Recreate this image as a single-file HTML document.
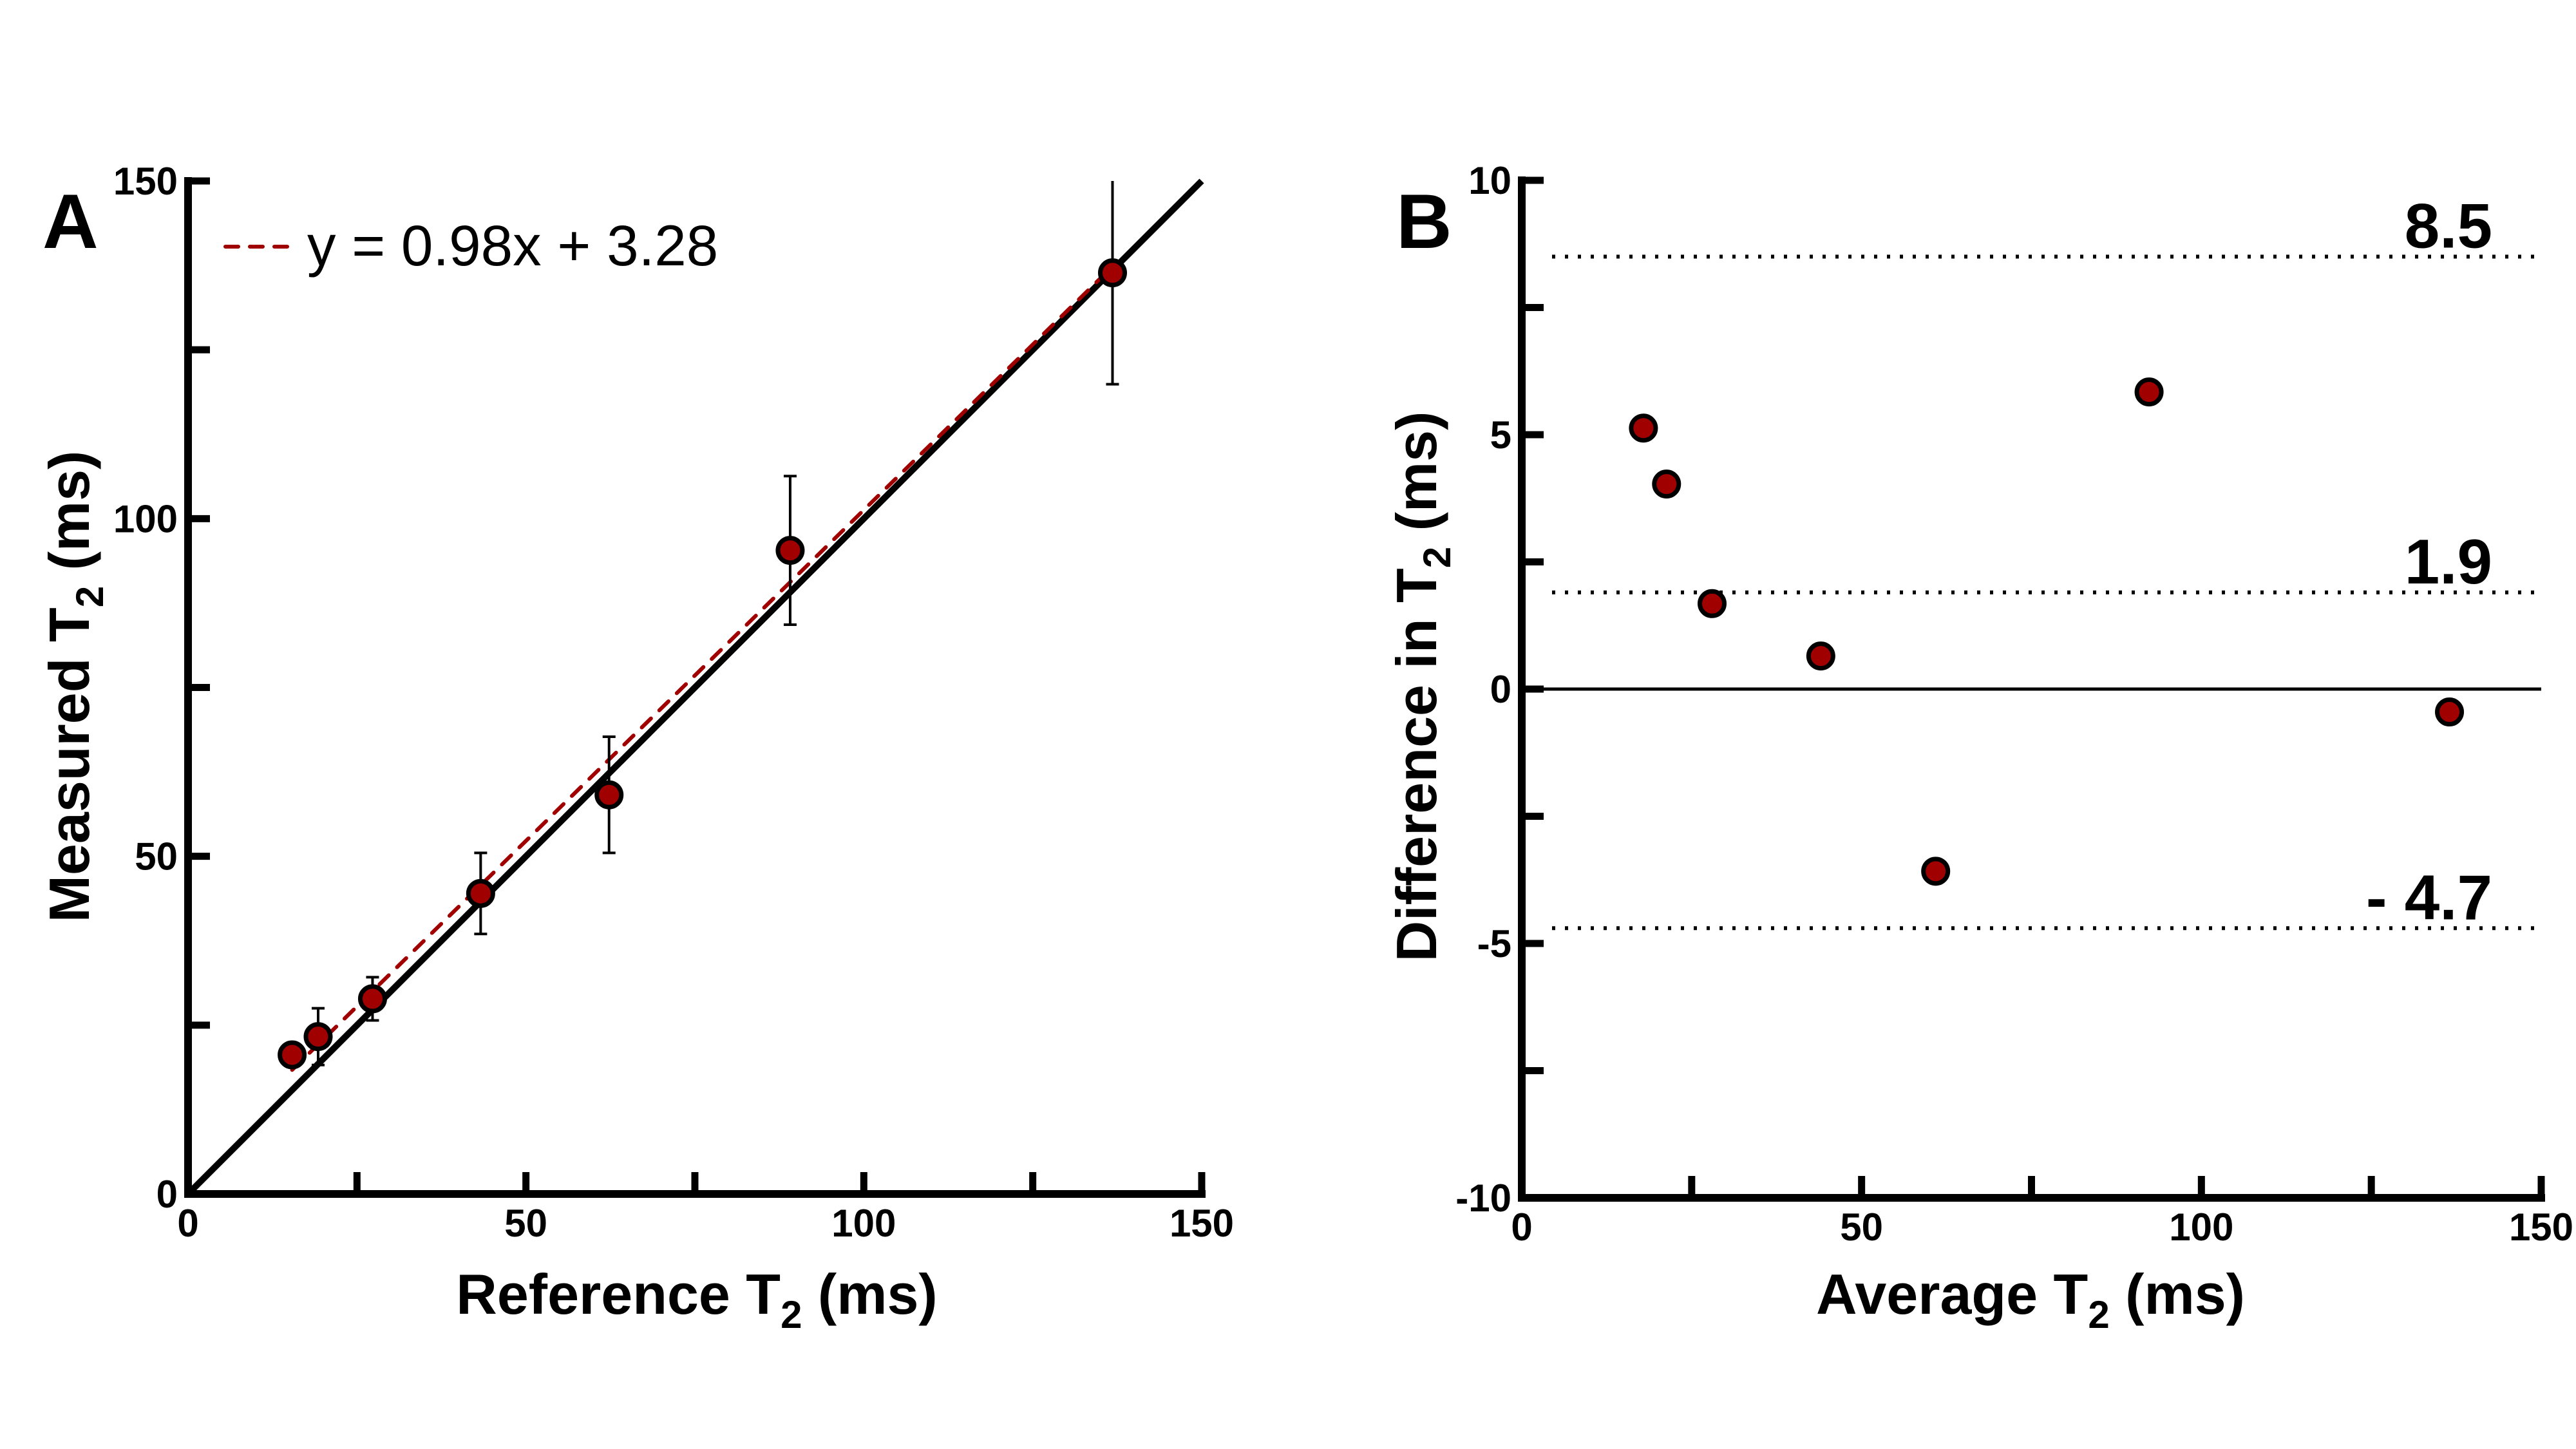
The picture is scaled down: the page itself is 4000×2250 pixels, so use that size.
<!DOCTYPE html>
<html><head><meta charset="utf-8">
<style>
html,body{margin:0;padding:0;background:#fff;}
svg{display:block;font-family:"Liberation Sans",Arial,sans-serif;}
</style></head>
<body>
<svg id="fig" width="4000" height="2250" viewBox="0 0 4000 2250" xmlns="http://www.w3.org/2000/svg"></svg>
<script>
// Panel A data
const refT2 = [15.4, 19.25, 27.3, 43.3, 62.3, 89.1, 136.8];
const measT2 = [20.6, 23.3, 28.9, 44.5, 59.1, 95.3, 136.4];
const measErr = [1.5, 4.2, 3.2, 6.0, 8.6, 11.0, 16.5];
const fitSlope = 0.98;
const fitIntercept = 3.28;
const ticksA = [0, 50, 100, 150];
// Panel B data
const avgT2 = [17.9, 21.3, 28.0, 44.0, 60.9, 92.3, 136.5];
const diffT2 = [5.13, 4.03, 1.68, 0.65, -3.58, 5.84, -0.45];
const loaValues = [8.5, 1.9, -4.7];
const loaLabels = ["8.5", "1.9", "- 4.7"];
const ticksBx = [0, 50, 100, 150];
const ticksBy = [-10, -5, 0, 5, 10];

const NS = "http://www.w3.org/2000/svg";
const svg = document.getElementById('fig');
function mk(tag, attrs, parent){
  const e = document.createElementNS(NS, tag);
  for (const k in attrs) e.setAttribute(k, attrs[k]);
  (parent||svg).appendChild(e);
  return e;
}
function txt(s, attrs, parent){ const t = mk('text', attrs, parent); t.textContent = s; return t; }

const A = {x0:292, x1:1866, y0:1854, y1:281, xmin:0, xmax:150, ymin:0, ymax:150};
const B = {x0:2363, x1:3946, y0:1860, y1:280, xmin:0, xmax:150, ymin:-10, ymax:10};
function sx(P,v){ return P.x0 + (v-P.xmin)/(P.xmax-P.xmin)*(P.x1-P.x0); }
function sy(P,v){ return P.y0 - (v-P.ymin)/(P.ymax-P.ymin)*(P.y0-P.y1); }

function axes(P, xt, yt, xMinor, yMinor, name){
  const g = mk('g', {});
  
  
  const l1 = mk('line', {x1:P.x0, y1:P.y0, x2:P.x1+6, y2:P.y0, stroke:'#000','stroke-width':12}, g);
  
  
  const l2 = mk('line', {x1:P.x0, y1:P.y0+6, x2:P.x0, y2:P.y1-6, stroke:'#000','stroke-width':12}, g);
  
  
  for (let v=P.xmin; v<=P.xmax+1e-9; v+=xMinor){
    const x = sx(P,v);
    const t = mk('line', {x1:x, y1:P.y0, x2:x, y2:P.y0-34, stroke:'#000','stroke-width':11}, g);
    
    
  }
  for (let v=P.ymin; v<=P.ymax+1e-9; v+=yMinor){
    const y = sy(P,v);
    const t = mk('line', {x1:P.x0, y1:y, x2:P.x0+34, y2:y, stroke:'#000','stroke-width':11}, g);
    
    
  }
  xt.forEach(v=>{
    const t = txt(String(v), {x:sx(P,v), y:P.y0+66, 'font-size':60,'font-weight':'bold','text-anchor':'middle'}, g);
    
    
  });
  yt.forEach(v=>{
    const t = txt(String(v), {x:P.x0-16, y:sy(P,v)+21, 'font-size':60,'font-weight':'bold','text-anchor':'end'}, g);
    
    
  });
}

function marker(x, y, parent, nm){
  const c = mk('circle', {cx:x, cy:y, r:19, fill:'#a00000', stroke:'#000','stroke-width':7}, parent);
  
  
}

// ---------- Panel A ----------
axes(A, ticksA, ticksA, 25, 25, 'panel-a');
const gA = mk('g', {});


const idl = mk('line', {x1:sx(A,0), y1:sy(A,0), x2:sx(A,150), y2:sy(A,150), stroke:'#000','stroke-width':10}, gA);


const fx0 = refT2[0], fx1 = refT2[refT2.length-1];
const fit = mk('line', {x1:sx(A,fx0), y1:sy(A,fitSlope*fx0+fitIntercept), x2:sx(A,fx1), y2:sy(A,fitSlope*fx1+fitIntercept), stroke:'#a00000','stroke-width':6,'stroke-dasharray':'20 18','stroke-linecap':'round'}, gA);


refT2.forEach((xv,i)=>{
  const x = sx(A,xv);
  const top = Math.min(A.ymax, measT2[i]+measErr[i]);
  const yt = sy(A,top), yb = sy(A,measT2[i]-measErr[i]);
  let d = `M${x},${yt}V${yb}M${x-10},${yb}H${x+10}`;
  if (top < A.ymax) d += `M${x-10},${yt}H${x+10}`;
  const eb = mk('path', {d:d, stroke:'#000','stroke-width':4, fill:'none'}, gA);
  
  
});
refT2.forEach((xv,i)=> marker(sx(A,xv), sy(A,measT2[i]), gA, 'data-point-a'));

const legL = mk('line', {x1:350, y1:383, x2:450, y2:383, stroke:'#a00000','stroke-width':6,'stroke-dasharray':'20 18','stroke-linecap':'round'});


const legT = txt('y = 0.98x + 3.28', {x:477, y:412, 'font-size':89});



const lA = txt('A', {x:66, y:385, 'font-size':120, 'font-weight':'bold'});



const xtA = txt('', {x:1082, y:2040, 'font-size':88, 'font-weight':'bold', 'text-anchor':'middle'});
xtA.innerHTML = 'Reference T<tspan font-size="60" dy="22">2</tspan><tspan dy="-22"> (ms)</tspan>';


const ytA = txt('', {x:0, y:0, 'font-size':88, 'font-weight':'bold', 'text-anchor':'middle', transform:'translate(138,1066) rotate(-90)'});
ytA.innerHTML = 'Measured T<tspan font-size="60" dy="22">2</tspan><tspan dy="-22"> (ms)</tspan>';



// ---------- Panel B ----------
axes(B, ticksBx, ticksBy, 25, 2.5, 'panel-b');
const gB = mk('g', {});


const zl = mk('line', {x1:B.x0, y1:sy(B,0), x2:sx(B,150), y2:sy(B,0), stroke:'#000','stroke-width':5}, gB);


loaValues.forEach((v,i)=>{
  const y = sy(B,v);
  const l = mk('line', {x1:2410, y1:y, x2:sx(B,150), y2:y, stroke:'#000','stroke-width':6,'stroke-dasharray':'5 15'}, gB);
  
  
  const t = txt(loaLabels[i], {x:3870, y:y-14, 'font-size':98, 'font-weight':'bold', 'text-anchor':'end'}, gB);
  
  
});
avgT2.forEach((xv,i)=> marker(sx(B,xv), sy(B,diffT2[i]), gB, 'data-point-b'));

const lB = txt('B', {x:2168, y:385, 'font-size':120, 'font-weight':'bold'});


const xtB = txt('', {x:3153, y:2040, 'font-size':88, 'font-weight':'bold', 'text-anchor':'middle'});
xtB.innerHTML = 'Average T<tspan font-size="60" dy="22">2</tspan><tspan dy="-22"> (ms)</tspan>';


const ytB = txt('', {x:0, y:0, 'font-size':88, 'font-weight':'bold', 'text-anchor':'middle', transform:'translate(2230,1066) rotate(-90)'});
ytB.innerHTML = 'Difference in T<tspan font-size="60" dy="22">2</tspan><tspan dy="-22"> (ms)</tspan>';


</script>
</body></html>
